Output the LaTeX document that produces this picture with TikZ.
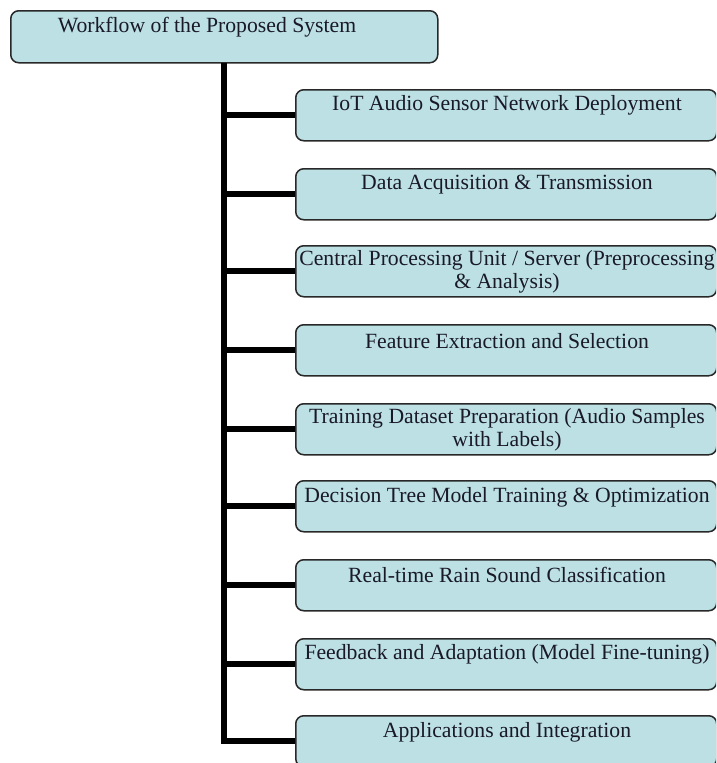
\documentclass[tikz,border=0pt]{standalone}
\usepackage{fontspec}
\setmainfont{Liberation Serif}
\definecolor{boxfill}{RGB}{188,224,227}
\definecolor{boxline}{RGB}{40,40,40}
\definecolor{txt}{RGB}{25,25,40}
\begin{document}
\begin{tikzpicture}[x=1pt,y=-1pt,
  box/.style={draw=boxline, line width=1.5pt, fill=boxfill, rounded corners=8pt,
    minimum width=421pt, minimum height=51pt, inner sep=0pt, anchor=north west},
  lbl/.style={text=txt, inner sep=0pt, align=center,
    font=\fontsize{21.7pt}{23pt}\selectfont},
  conn/.style={line width=6pt, black, line join=miter}]
\useasboundingbox (0,0) rectangle (716,763);
\clip (0,0) rectangle (716,763);
% root
\node[box, minimum width=427pt, minimum height=52pt] (root) at (10,10) {};
\node[lbl] (troot) at (207,27) {Workflow of the Proposed System};
% boxes
\node[box] (b1) at (295,89) {};
\node[box] (b2) at (295,168) {};
\node[box] (b3) at (295,245) {};
\node[box] (b4) at (295,324) {};
\node[box] (b5) at (295,403) {};
\node[box] (b6) at (295,480) {};
\node[box] (b7) at (295,559) {};
\node[box] (b8) at (295,638) {};
\node[box] (b9) at (295,715) {};
% labels
\node[lbl] (t1) at (507,105) {IoT Audio Sensor Network Deployment};
\node[lbl] (t2) at (507,185) {Data Acquisition \& Transmission};
\node[lbl] (t3) at (507,272) {Central Processing Unit / Server (Preprocessing\\\& Analysis)};
\node[lbl] (t4) at (507,341) {Feature Extraction and Selection};
\node[lbl] (t5) at (507,430) {Training Dataset Preparation (Audio Samples\\with Labels)};
\node[lbl] (t6) at (507,497) {Decision Tree Model Training \& Optimization};
\node[lbl] (t7) at (507,575) {Real-time Rain Sound Classification};
\node[lbl] (t8) at (507,654) {Feedback and Adaptation (Model Fine-tuning)};
\node[lbl] (t9) at (507,732) {Applications and Integration};
% connectors
\coordinate (tk) at (224,63);
\draw[conn] (tk) |- (b9.west);
\foreach \i in {1,...,8} {
  \draw[conn] (b\i.west -| tk) -- (b\i.west);
}
\end{tikzpicture}
\end{document}
